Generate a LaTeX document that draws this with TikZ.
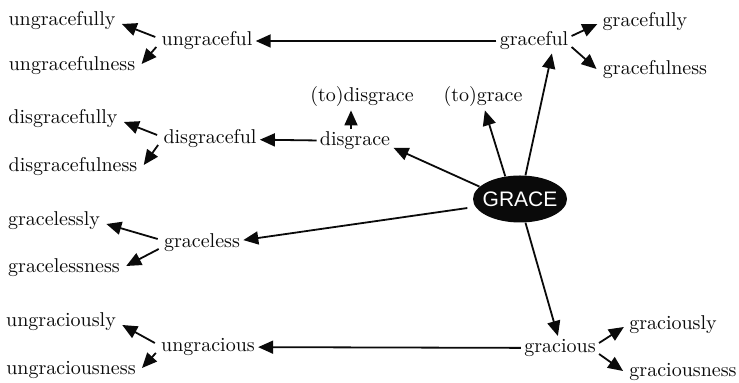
\documentclass[tikz,border=0pt]{standalone}
\usepackage{fontspec}
\usepackage{tikz}
\usetikzlibrary{arrows.meta, shapes.geometric}
\newfontfamily\rootfont{Liberation Sans}
\definecolor{ink}{gray}{0.04}
\tikzset{
  word/.style     = {font=\fontsize{10}{12}\selectfont, text=ink, inner sep=1.5pt},
  rootword/.style = {ellipse, fill=ink, text=white, inner xsep=-2.5pt, inner ysep=0pt,
                     font=\rootfont\fontsize{10.5}{12}\selectfont,
                     minimum width=47pt, minimum height=23.5pt},
  link/.style     = {draw=ink, line width=0.9pt,
                     -{Triangle[length=7.5pt, width=6.5pt]}},
}

\begin{document}
\begin{tikzpicture}[x=0.5pt, y=-0.5pt]
  \useasboundingbox (0,0) rectangle (739,383);
  \node[rootword] (grace) at (520,199) {GRACE};
  \node[word] (graceful)     at (534,41)  {graceful};
  \node[word] (gracefully)   at (645,22)  {gracefully};
  \node[word] (gracefulness) at (655,70)  {gracefulness};
  \node[word] (ungraceful)      at (207,41) {ungraceful};
  \node[word] (ungracefully)    at (62,21)  {ungracefully};
  \node[word] (ungracefulness)  at (72,66)  {ungracefulness};
  \node[word] (tograce)    at (483,97)  {(to)grace};
  \node[word] (todisgrace) at (362,97)  {(to)disgrace};
  \node[word] (disgrace)   at (355,141) {disgrace};
  \node[word] (disgraceful)     at (210,139) {disgraceful};
  \node[word] (disgracefully)   at (63,119)  {disgracefully};
  \node[word] (disgracefulness) at (73,167)  {disgracefulness};
  \node[word] (graceless)     at (202,243) {graceless};
  \node[word] (gracelessly)   at (54,221)  {gracelessly};
  \node[word] (gracelessness) at (64,268)  {gracelessness};
  \node[word] (gracious)     at (560,348) {gracious};
  \node[word] (graciously)   at (673,325) {graciously};
  \node[word] (graciousness) at (683,372) {graciousness};
  \node[word] (ungracious)     at (208,347) {ungracious};
  \node[word] (ungraciously)   at (61,322)  {ungraciously};
  \node[word] (ungraciousness) at (71,370)  {ungraciousness};

  \draw[link] (grace.77) -- (graceful.-35);
  \draw[link] (grace.123) -- (tograce.-82);
  \draw[link] (grace.163) -- (disgrace.-10);
  \draw[link, shorten <=4pt] (grace.190) -- (graceless.4);
  \draw[link] (grace.-77) -- (gracious.100);
  \draw[link] (graceful) -- (ungraceful);
  \draw[link] (gracious) -- (ungracious);
  \draw[link] (disgrace) -- (disgraceful);
  \draw[link] ([xshift=-2pt]disgrace.north)
    -- ([xshift=-2pt]disgrace.north |- todisgrace.south);
  \foreach \m/\a/\b in {ungraceful/ungracefully/ungracefulness,
      disgraceful/disgracefully/disgracefulness,
      graceless/gracelessly/gracelessness,
      ungracious/ungraciously/ungraciousness}{
    \draw[link] ([shift={(-3,-4)}]\m.west) -- ([shift={(3,3)}]\a.east);
    \draw[link] ([shift={(-2,6)}]\m.west) -- ([shift={(3,-2)}]\b.east);
  }
  \foreach \m/\a/\b in {graceful/gracefully/gracefulness,
      gracious/graciously/graciousness}{
    \draw[link] ([shift={(0,-5)}]\m.east) -- ([shift={(-2,2)}]\a.west);
    \draw[link] ([shift={(0,6)}]\m.east) -- ([shift={(-3,-1)}]\b.west);
  }
\end{tikzpicture}
\end{document}
